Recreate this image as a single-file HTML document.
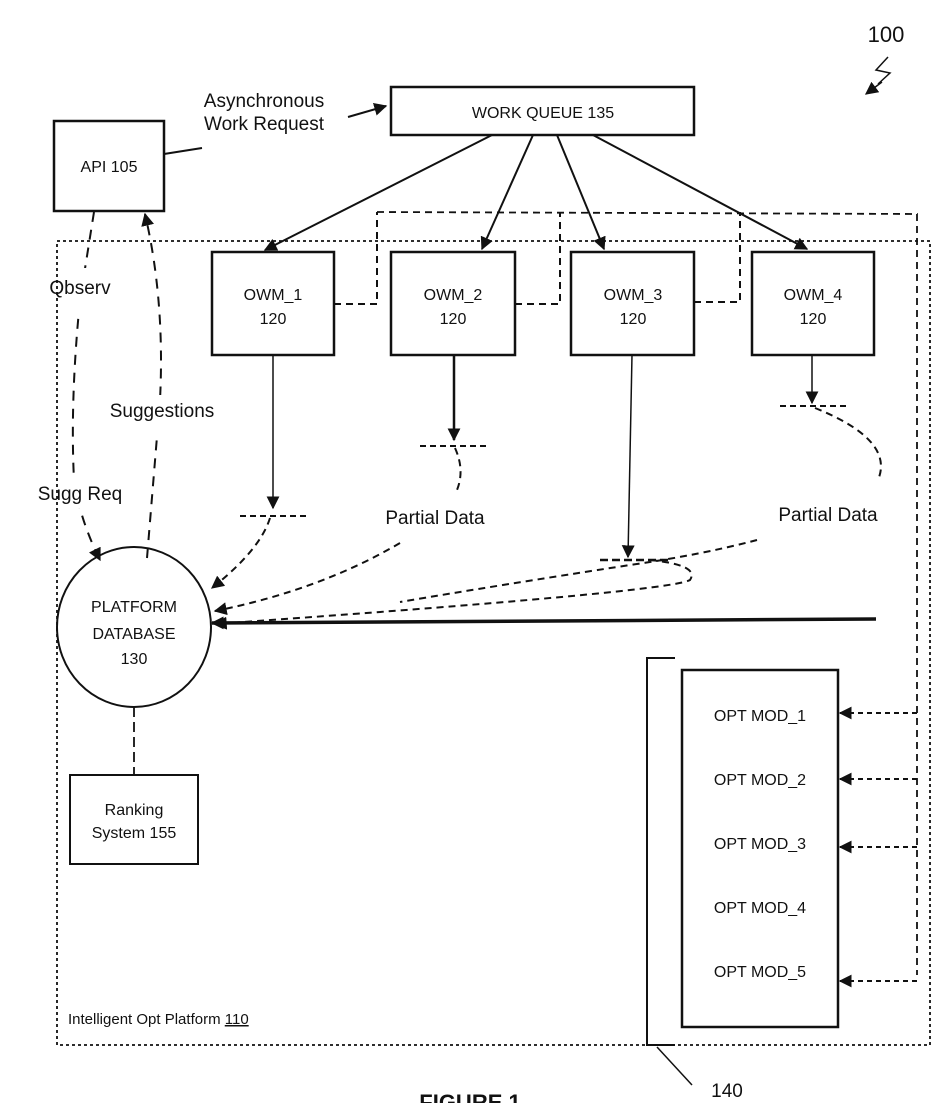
<!DOCTYPE html>
<html><head><meta charset="utf-8"><style>
html,body{margin:0;padding:0;background:#fff;}
svg{display:block;}
text{font-family:"Liberation Sans",sans-serif;fill:#111;}
</style></head><body>
<svg width="942" height="1103" viewBox="0 0 942 1103" xmlns="http://www.w3.org/2000/svg">
<defs>
<marker id="b" viewBox="0 0 10 10" refX="9" refY="5" markerWidth="13" markerHeight="13" markerUnits="userSpaceOnUse" orient="auto"><path d="M0,0 L10,5 L0,10 z" fill="#111"/></marker>
</defs>
<g fill="none" stroke="#111">
<path d="M377,212 L917,214 L917,975" stroke-width="1.8" stroke-dasharray="7,5"/>
<path d="M334,304 L377,304 L377,212" stroke-width="2" stroke-dasharray="7,5"/>
<path d="M515,304 L560,304 L560,212" stroke-width="2" stroke-dasharray="7,5"/>
<path d="M694,302 L740,302 L740,212" stroke-width="2" stroke-dasharray="7,5"/>
<rect x="54" y="121" width="110" height="90" stroke-width="2.5"/>
<rect x="391" y="87" width="303" height="48" stroke-width="2.5"/>
<rect x="212" y="252" width="122" height="103" stroke-width="2.5"/>
<rect x="391" y="252" width="124" height="103" stroke-width="2.5"/>
<rect x="571" y="252" width="123" height="103" stroke-width="2.5"/>
<rect x="752" y="252" width="122" height="103" stroke-width="2.5"/>
<ellipse cx="134" cy="627" rx="77" ry="80" stroke-width="2"/>
<rect x="70" y="775" width="128" height="89" stroke-width="2"/>
<rect x="682" y="670" width="156" height="357" stroke-width="2.5"/>
<path d="M675,658 L647,658 L647,1045 L675,1045" stroke-width="2"/>
<path d="M657,1047 L692,1085" stroke-width="1.5"/>
<path d="M164,154 L202,148" stroke-width="2"/>
<path d="M348,117 L386,106" stroke-width="2" marker-end="url(#b)"/>
<path d="M492,135 L265,250" stroke-width="2" marker-end="url(#b)"/>
<path d="M533,135 L482,249" stroke-width="2" marker-end="url(#b)"/>
<path d="M557,135 L604,249" stroke-width="2" marker-end="url(#b)"/>
<path d="M593,135 L807,249" stroke-width="2" marker-end="url(#b)"/>
<path d="M273,355 L273,508" stroke-width="1.5" marker-end="url(#b)"/>
<path d="M454,355 L454,440" stroke-width="2.5" marker-end="url(#b)"/>
<path d="M632,355 L628,557" stroke-width="1.5" marker-end="url(#b)"/>
<path d="M812,355 L812,403" stroke-width="1.5" marker-end="url(#b)"/>
<path d="M240,516 L306,516" stroke-width="2" stroke-dasharray="6,4"/>
<path d="M420,446 L486,446" stroke-width="2" stroke-dasharray="6,4"/>
<path d="M600,560 L670,560" stroke-width="2.5" stroke-dasharray="8,4"/>
<path d="M780,406 L848,406" stroke-width="2" stroke-dasharray="6,4"/>
<path d="M270,518 Q260,550 212,588" stroke-width="2" stroke-dasharray="7,5" marker-end="url(#b)"/>
<path d="M400,543 Q320,590 215,611" stroke-width="2" stroke-dasharray="7,5" marker-end="url(#b)"/>
<path d="M455,448 Q465,470 457,490" stroke-width="2" stroke-dasharray="7,5"/>
<path d="M815,408 Q895,440 878,480" stroke-width="2" stroke-dasharray="7,5"/>
<path d="M757,540 Q700,555 630,565 Q500,585 400,602" stroke-width="2" stroke-dasharray="7,5"/>
<path d="M650,560 Q700,565 690,580 Q670,592 215,624" stroke-width="2" stroke-dasharray="7,5" marker-end="url(#b)"/>
<path d="M876,619 L212,623" stroke-width="3.5" marker-end="url(#b)"/>
<path d="M94,212 L80,300 Q70,400 74,480 Q80,520 100,560" stroke-width="2" stroke-dasharray="10,8" marker-end="url(#b)"/>
<path d="M147,558 L160,400 Q165,300 145,214" stroke-width="2" stroke-dasharray="10,8" marker-end="url(#b)"/>
<path d="M134,707 L134,775" stroke-width="1.8" stroke-dasharray="10,5"/>
<path d="M917,713 L840,713" stroke-width="2" stroke-dasharray="5,4" marker-end="url(#b)"/>
<path d="M917,779 L840,779" stroke-width="2" stroke-dasharray="5,4" marker-end="url(#b)"/>
<path d="M917,847 L840,847" stroke-width="2" stroke-dasharray="5,4" marker-end="url(#b)"/>
<path d="M917,981 L840,981" stroke-width="2" stroke-dasharray="5,4" marker-end="url(#b)"/>
<path d="M888,57 L876,70 L890,73 L878,84" stroke-width="1.5"/>
<path d="M882,82 L866,94" stroke-width="1.5" marker-end="url(#b)"/>
</g>
<g fill="#fff">
<rect x="40" y="268" width="80" height="50"/>
<rect x="100" y="395" width="120" height="40"/>
<rect x="30" y="478" width="100" height="30"/>
</g>
<rect x="57" y="241" width="873" height="804" fill="none" stroke="#111" stroke-width="1.8" stroke-dasharray="3,3"/>
<g font-size="16" text-anchor="middle">
<text x="886" y="42" font-size="22">100</text>
<text x="264" y="107" font-size="19">Asynchronous</text>
<text x="264" y="130" font-size="19">Work Request</text>
<text x="543" y="118">WORK QUEUE 135</text>
<text x="109" y="172">API 105</text>
<text x="273" y="300">OWM_1</text><text x="273" y="324">120</text>
<text x="453" y="300">OWM_2</text><text x="453" y="324">120</text>
<text x="633" y="300">OWM_3</text><text x="633" y="324">120</text>
<text x="813" y="300">OWM_4</text><text x="813" y="324">120</text>
<text x="80" y="294" font-size="19">Qbserv</text>
<text x="162" y="417" font-size="19">Suggestions</text>
<text x="80" y="500" font-size="19">Sugg Req</text>
<text x="435" y="524" font-size="19">Partial Data</text>
<text x="828" y="521" font-size="19">Partial Data</text>
<text x="134" y="612">PLATFORM</text>
<text x="134" y="639">DATABASE</text>
<text x="134" y="664">130</text>
<text x="134" y="815">Ranking</text>
<text x="134" y="838">System 155</text>
<text x="760" y="721">OPT MOD_1</text>
<text x="760" y="785">OPT MOD_2</text>
<text x="760" y="849">OPT MOD_3</text>
<text x="760" y="913">OPT MOD_4</text>
<text x="760" y="977">OPT MOD_5</text>
<text x="727" y="1097" font-size="19">140</text>
<text x="470" y="1110" font-size="22" font-weight="bold" font-family="Liberation Serif">FIGURE 1</text>
</g>
<text x="68" y="1024" font-size="15">Intelligent Opt Platform <tspan text-decoration="underline">110</tspan></text>
</svg>
</body></html>
